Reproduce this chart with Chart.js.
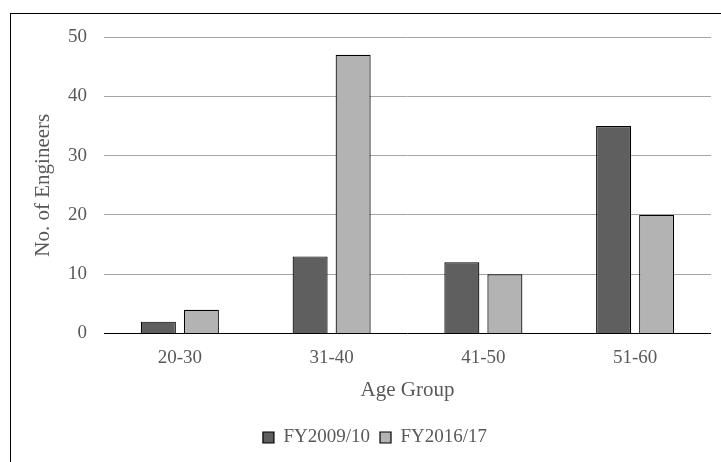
<!DOCTYPE html>
<html>
<head>
<meta charset="utf-8">
<script src="https://cdn.jsdelivr.net/npm/chart.js@4/dist/chart.umd.min.js"></script>
<style>
  html, body { margin: 0; padding: 0; background: #fff; overflow: hidden; width: 721px; height: 462px; }
  #frame { position: absolute; left: 10px; top: 13px; width: 760px; height: 520px; border: 1px solid #000; box-sizing: border-box; }
  #wrap { position: absolute; left: 11px; top: 14px; width: 728px; height: 443px; }
</style>
</head>
<body>
<div id="frame"></div>
<div id="wrap"><canvas id="chart"></canvas></div>
<script>
// Engineers by age group, two fiscal years
const ageGroups = ['20-30', '31-40', '41-50', '51-60'];
const fy2009 = [2, 13, 12, 35];
const fy2016 = [4, 47, 10, 20];
const seriesNames = ['FY2009/10', 'FY2016/17'];
const yTicks = [0, 10, 20, 30, 40, 50];

const serif = '"Liberation Serif", "Times New Roman", serif';
const textColor = '#595959';
const rightGap = 28;

// Let the legend span the full canvas width, ignoring the right padding of the plot
const widenLegend = {
  id: 'widenLegend',
  afterLayout(chart) {
    const lg = chart.legend;
    if (!lg) return;
    lg.right = chart.width;
    lg.width = lg.right - lg.left;
  }
};

new Chart(document.getElementById('chart'), {
  type: 'bar',
  data: {
    labels: ageGroups,
    datasets: [
      { label: seriesNames[0], data: fy2009, backgroundColor: '#5f5f5f', borderColor: '#000', borderWidth: 1.2 },
      { label: seriesNames[1], data: fy2016, backgroundColor: '#b3b3b3', borderColor: '#000', borderWidth: 1.2 }
    ]
  },
  plugins: [widenLegend],
  options: {
    responsive: true,
    maintainAspectRatio: false,
    animation: false,
    devicePixelRatio: 1,
    layout: { padding: { left: 0, right: rightGap, top: 23, bottom: 0 } },
    datasets: { bar: { categoryPercentage: 0.567, barPercentage: 0.814 } },
    plugins: {
      tooltip: { enabled: false },
      legend: {
        position: 'bottom',
        labels: {
          color: textColor,
          font: { family: serif, size: 19 },
          boxWidth: 11,
          boxHeight: 11,
          padding: 10
        }
      }
    },
    scales: {
      x: {
        grid: { display: false },
        border: { display: false },
        ticks: { color: textColor, font: { family: serif, size: 19 }, padding: 5, maxRotation: 0 },
        title: { display: true, text: 'Age Group', color: textColor, font: { family: serif, size: 21 }, padding: { top: 0, bottom: 15.4 } },
        afterFit(scale) { scale.height = 84.5; }
      },
      y: {
        min: yTicks[0],
        max: yTicks[yTicks.length - 1],
        afterBuildTicks(scale) { scale.ticks = yTicks.map(v => ({ value: v })); },
        grid: {
          drawTicks: false,
          color: ctx => (ctx.tick && ctx.tick.value === 0 ? '#000' : '#a6a6a6'),
          lineWidth: 1
        },
        border: { display: false },
        ticks: { color: textColor, font: { family: serif, size: 19 }, padding: 17 },
        title: { display: true, text: 'No. of Engineers', color: textColor, font: { family: serif, size: 21 }, padding: { top: 20, bottom: 0 } },
        afterFit(scale) {
          scale.width = 93;
          scale.paddingTop = 10;
          scale.paddingBottom = 10;
        }
      }
    }
  }
});
</script>
</body>
</html>
